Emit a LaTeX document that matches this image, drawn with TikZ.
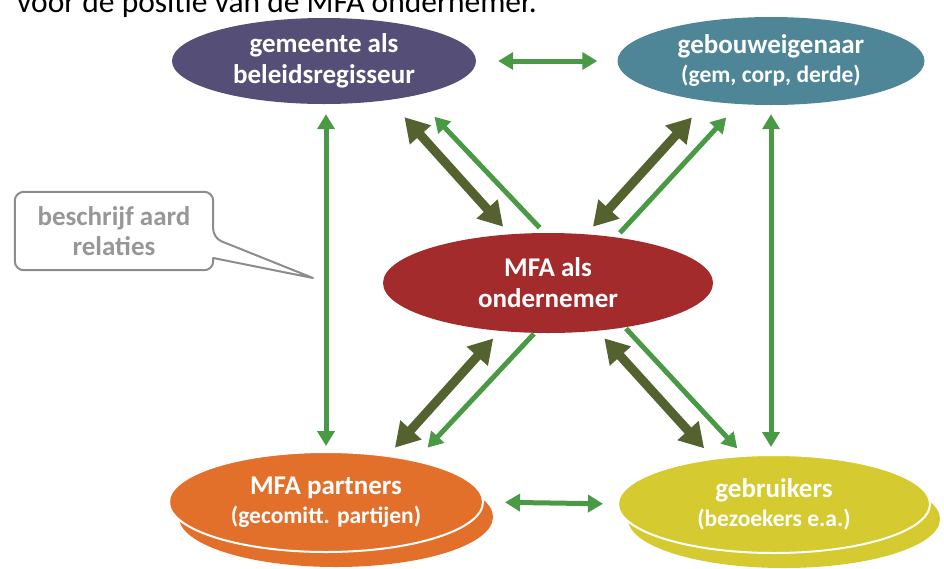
\documentclass[tikz,border=0pt]{standalone}
\usepackage{fontspec}
\setmainfont{Carlito}
\usepackage{xcolor}
\usepackage{tikz}
\usetikzlibrary{arrows.meta,shapes.geometric,calc}
\definecolor{gemc}{HTML}{554E76}
\definecolor{eigc}{HTML}{4E8698}
\definecolor{mfac}{HTML}{A42B2C}
\definecolor{partc}{HTML}{E3702A}
\definecolor{gebrc}{HTML}{D5CA30}
\definecolor{linkc}{HTML}{4A9A45}
\definecolor{olivec}{HTML}{53622E}
\definecolor{notec}{HTML}{8C8C8C}
\newcommand{\mainlbl}{\fontsize{27}{31}\selectfont\bfseries}
\newcommand{\sublbl}{\fontsize{23.5}{29}\selectfont\bfseries}
\tikzset{
  bubble/.style={ellipse, inner sep=0pt, draw=none, text=white,
    align=center, font=\mainlbl},
  stackbubble/.style={bubble, draw=white, line width=2pt},
  notebox/.style={rectangle, inner sep=0pt, minimum width=198pt,
    minimum height=78pt, text=notec!90, align=center,
    font=\fontsize{27}{30}\selectfont\bfseries},
  noteline/.style={draw=notec, line width=2pt, line join=round},
  twoway/.style={{Triangle[length=15pt,width=17pt]}-{Triangle[length=15pt,width=17pt]},
    draw=linkc, line width=5pt},
  oneway/.style={-{Triangle[length=15pt,width=17pt]}, draw=linkc, line width=5pt},
  strongway/.style={{Triangle[length=24pt,width=27pt]}-{Triangle[length=24pt,width=27pt]},
    draw=olivec, line width=9pt},
}

\begin{document}
\begin{tikzpicture}[x=1pt,y=-1pt]
  \useasboundingbox (0,0) rectangle (944,568);
  \node[anchor=base west, inner sep=0pt, font=\fontsize{31.5}{36}\selectfont] (title)
    at (17,12) {voor de positie van de MFA ondernemer.};
  % stakeholders
  \node[bubble, fill=gemc, minimum width=304pt, minimum height=86pt] (gem)
    at (324,61) {gemeente als\\beleidsregisseur};
  \node[bubble, fill=eigc, minimum width=307pt, minimum height=88pt] (eig)
    at (771,61) {gebouweigenaar\\[-2pt]{\sublbl (gem, corp, derde)}};
  \node[bubble, fill=mfac, minimum width=330pt, minimum height=100pt] (mfa)
    at (548,283) {MFA als\\ondernemer};
  \node[bubble, fill=partc, minimum width=314pt, minimum height=100pt] (partnersback)
    at (336,517) {};
  \node[stackbubble, fill=partc, minimum width=314pt, minimum height=100pt] (partners)
    at (326,502) {MFA partners\\[-2pt]{\sublbl (gecomitt. partijen)}};
  \node[bubble, fill=gebrc, minimum width=312pt, minimum height=98pt] (gebruikersback)
    at (784,519) {};
  \node[stackbubble, fill=gebrc, minimum width=312pt, minimum height=98pt] (gebruikers)
    at (774,504) {gebruikers\\[-2pt]{\sublbl (bezoekers e.a.)}};
  % callout
  \node[notebox] (note) at (114,231) {beschrijf aard\\relaties};
  \coordinate (notetip) at (313,278);
  \draw[noteline, rounded corners=9pt] (note.west) |- (note.north east)
    -- ($(note.east)+(0,7)$) [sharp corners] -- (notetip)
    -- ($(note.east)+(0,27)$) [rounded corners=9pt] -- (note.south east)
    -- (note.south west) -- cycle;
  % relations
  \draw[twoway, shorten <=22pt, shorten >=20pt] (gem.east) -- (eig.west);
  \draw[twoway, shorten <=21pt, shorten >=14pt] (partners.east) -- (gebruikers.west);
  \draw[twoway, shorten <=10pt, shorten >=5pt] (partners.north |- gem.south) -- (partners.north);
  \draw[twoway, shorten <=9pt, shorten >=7pt] (eig.south) -- (eig.south |- gebruikers.north);
  \draw[strongway, shorten <=10pt, shorten >=23pt] (mfa.128) -- (gem.-31);
  \draw[oneway, shorten <=7pt, shorten >=29pt] (mfa.94) -- (gem.-21);
  \draw[strongway, shorten <=10pt, shorten >=22pt] (mfa.52) -- (eig.212);
  \draw[oneway, shorten <=6pt, shorten >=18pt] (mfa.34) -- (eig.233);
  \draw[strongway, shorten <=10pt, shorten >=10pt] (mfa.225) -- (partners.37);
  \draw[oneway, shorten <=1pt, shorten >=17pt] (mfa.255) -- (partners.25);
  \draw[strongway, shorten <=10pt, shorten >=13pt] (mfa.316) -- (gebruikers.143);
  \draw[oneway, shorten <=1.5pt, shorten >=9pt] (mfa.330) -- (gebruikers.122);
\end{tikzpicture}
\end{document}
